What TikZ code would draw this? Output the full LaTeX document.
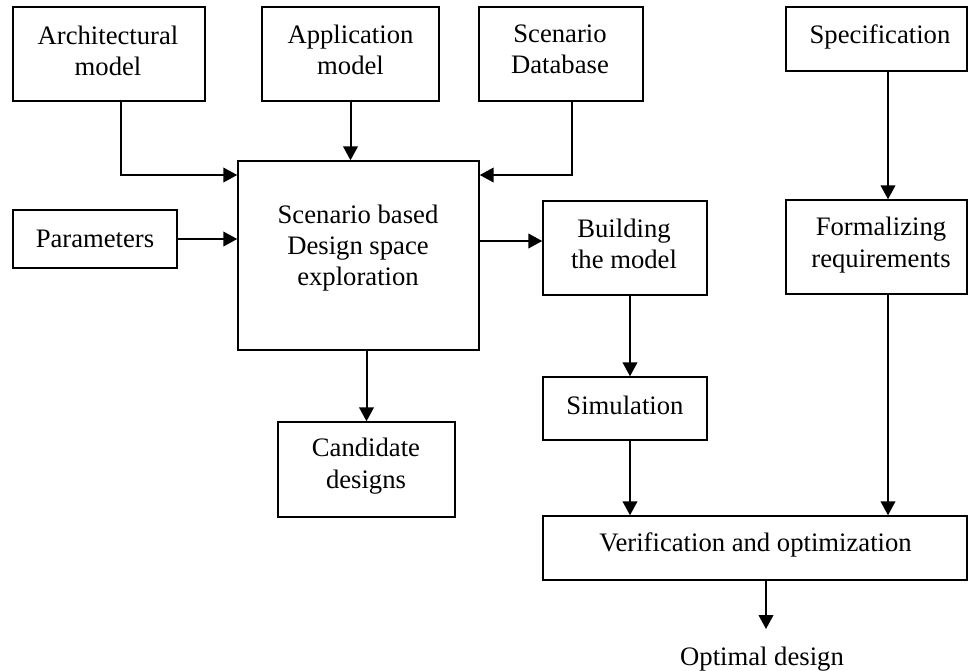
\documentclass[tikz,border=0pt]{standalone}
\usepackage{fontspec}
\setmainfont{Liberation Serif}
\usetikzlibrary{arrows.meta}
\begin{document}
\begin{tikzpicture}[x=0.75pt,y=-0.75pt,
  box/.style={draw=black, line width=1.1pt, inner sep=0pt},
  txt/.style={align=center, inner sep=0pt, font=\fontsize{20}{23.5}\selectfont},
  arr/.style={line width=1.5pt, -{Triangle[width=11pt,length=10.5pt]}}]
\useasboundingbox (0,0) rectangle (968,671);
% boxes (drawn as rectangles between corners)
\node[box, fit/.style={}, minimum width=144pt, minimum height=70.5pt] (arch) at (109,54) {};
\node[box, minimum width=132.75pt, minimum height=70.5pt] (app) at (350.5,54) {};
\node[box, minimum width=123pt, minimum height=70.5pt] (scen) at (561,54) {};
\node[box, minimum width=135.75pt, minimum height=48pt] (spec) at (876.5,39) {};
\node[box, minimum width=123pt, minimum height=43.5pt] (params) at (95,239) {};
\node[box, minimum width=180.75pt, minimum height=141.75pt] (main) at (358.5,255.5) {};
\node[box, minimum width=123pt, minimum height=70.5pt] (build) at (625,248) {};
\node[box, minimum width=135.75pt, minimum height=70.5pt] (form) at (876.5,247) {};
\node[box, minimum width=123pt, minimum height=47.25pt] (sim) at (625,408.5) {};
\node[box, minimum width=132.75pt, minimum height=71.25pt] (cand) at (366.5,469.5) {};
\node[box, minimum width=318pt, minimum height=48pt] (verif) at (755,548) {};
% texts
\node[txt] (archT) at (108,51) {Architectural\\model};
\node[txt] (appT) at (350.5,50) {Application\\model};
\node[txt] (scenT) at (560,49) {Scenario\\Database};
\node[txt] (specT) at (880,37) {Specification};
\node[txt] (paramsT) at (95,239) {Parameters};
\node[txt] (mainT) at (358,248) {Scenario based\\Design space\\exploration};
\node[txt] (buildT) at (624,244) {Building\\the model};
\node[txt] (formT) at (881,245) {Formalizing\\requirements};
\node[txt] (simT) at (625,405) {Simulation};
\node[txt] (candT) at (366,466) {Candidate\\designs};
\node[txt] (verifT) at (755.5,545) {Verification and optimization};
\node[txt] (opt) at (762,659) {Optimal design};
% helper coordinates
\coordinate (a1) at (121,175);
\coordinate (s1) at (572,175);
\coordinate (m1) at (0,241);
\coordinate (bx) at (630,0);
\coordinate (fx) at (888,0);
\coordinate (otip) at (766,629);
% connectors
\draw[arr] (arch.south -| a1) |- (a1 -| main.west);
\draw[arr] (app.south) -- (app.south |- main.north);
\draw[arr] (scen.south -| s1) |- (s1 -| main.east);
\draw[arr] (params.east) -- (params.east -| main.west);
\draw[arr] (main.east |- m1) -- (build.west |- m1);
\draw[arr] (build.south -| bx) -- (sim.north -| bx);
\draw[arr] (main.south -| cand.north) -- (cand.north);
\draw[arr] (sim.south -| bx) -- (verif.north -| bx);
\draw[arr] (spec.south -| fx) -- (form.north -| fx);
\draw[arr] (form.south -| fx) -- (verif.north -| fx);
\draw[arr] (verif.south -| otip) -- (otip);
\end{tikzpicture}
\end{document}
